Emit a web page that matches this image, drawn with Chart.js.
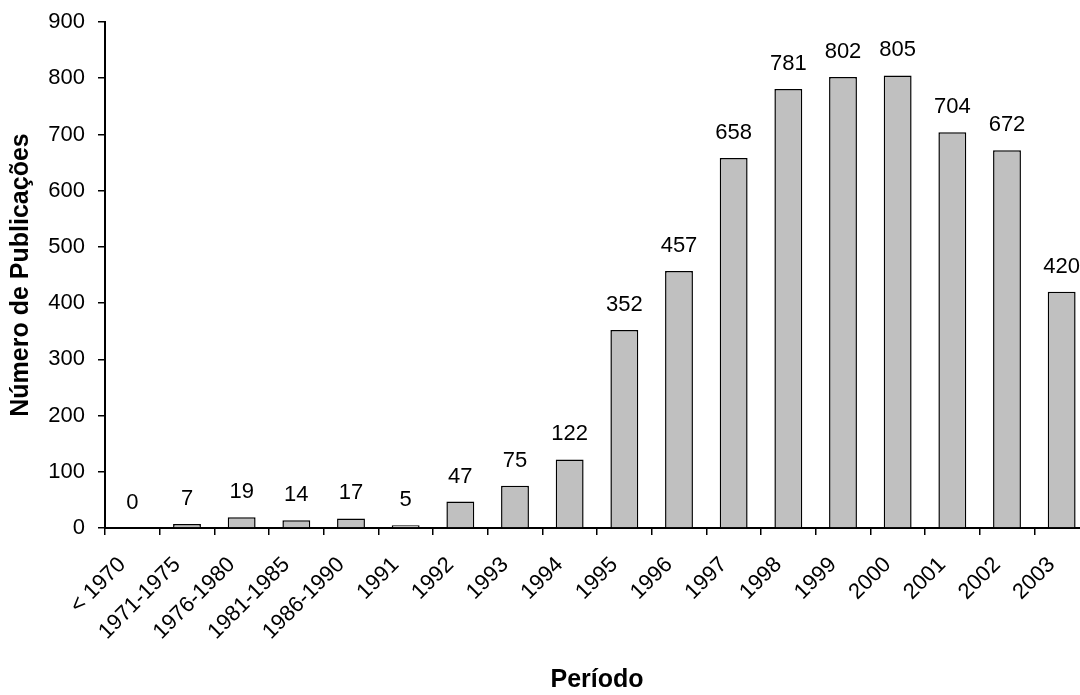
<!DOCTYPE html>
<html>
<head>
<meta charset="utf-8">
<script src="https://cdn.jsdelivr.net/npm/chart.js@4/dist/chart.umd.min.js"></script>
<style>
html,body{margin:0;padding:0;background:#fff;overflow:hidden;}
canvas{display:block;}
</style>
</head>
<body>
<canvas id="c" width="1089" height="695"></canvas>
<script>
const categories = ["< 1970","1971-1975","1976-1980","1981-1985","1986-1990","1991","1992","1993","1994","1995","1996","1997","1998","1999","2000","2001","2002","2003"];
const publicacoes = [0,7,19,14,17,5,47,75,122,352,457,658,781,802,805,704,672,420];
const yTicks = [0,100,200,300,400,500,600,700,800,900];

const FONT = '"Liberation Sans", Arial, Helvetica, sans-serif';

const valueLabels = {
  id: 'valueLabels',
  afterDatasetsDraw(chart) {
    const ctx = chart.ctx;
    const meta = chart.getDatasetMeta(0);
    ctx.save();
    ctx.font = '22px ' + FONT;
    ctx.fillStyle = '#000';
    ctx.textAlign = 'center';
    ctx.textBaseline = 'alphabetic';
    meta.data.forEach((bar, i) => {
      ctx.fillText(String(publicacoes[i]), bar.x, bar.y - 19);
    });
    ctx.restore();
  }
};

new Chart(document.getElementById('c'), {
  type: 'bar',
  data: {
    labels: categories,
    datasets: [{
      data: publicacoes,
      backgroundColor: '#c0c0c0',
      borderColor: '#000',
      borderWidth: 1.5,
      borderSkipped: 'bottom',
      barPercentage: 0.51,
      categoryPercentage: 1.0
    }]
  },
  options: {
    responsive: false,
    animation: false,
    devicePixelRatio: 1,
    layout: { padding: { top: 22, right: 0, left: 0, bottom: 0 } },
    plugins: { legend: { display: false }, tooltip: { enabled: false } },
    scales: {
      x: {
        grid: { display: true, drawOnChartArea: false, drawTicks: true, tickLength: 7, color: '#000', lineWidth: 1.5, offset: true },
        border: { display: true, color: '#000', width: 2 },
        ticks: { color: '#000', font: { family: FONT, size: 22 }, maxRotation: 45, minRotation: 45, autoSkip: false, padding: 17, labelOffset: -10 },
        title: { display: true, text: 'Período', color: '#000', font: { family: FONT, size: 25, weight: 'bold' }, padding: { top: 0, bottom: 0 } },
        afterFit(s) { s.height = 167; s.paddingLeft = 0; s.paddingRight = 0; }
      },
      y: {
        min: 0, max: 900,
        afterBuildTicks(s) { s.ticks = yTicks.map(v => ({ value: v })); },
        grid: { display: true, drawOnChartArea: false, drawTicks: true, tickLength: 7, color: '#000', lineWidth: 1.5 },
        border: { display: true, color: '#000', width: 2 },
        ticks: { color: '#000', font: { family: FONT, size: 22 }, padding: 13 },
        title: { display: true, text: 'Número de Publicações', color: '#000', font: { family: FONT, size: 25, weight: 'bold' }, padding: { top: 6, bottom: 0 } },
        afterFit(s) { s.width = 105; s.paddingTop = 0; s.paddingBottom = 0; }
      }
    }
  },
  plugins: [valueLabels]
});
</script>
</body>
</html>
